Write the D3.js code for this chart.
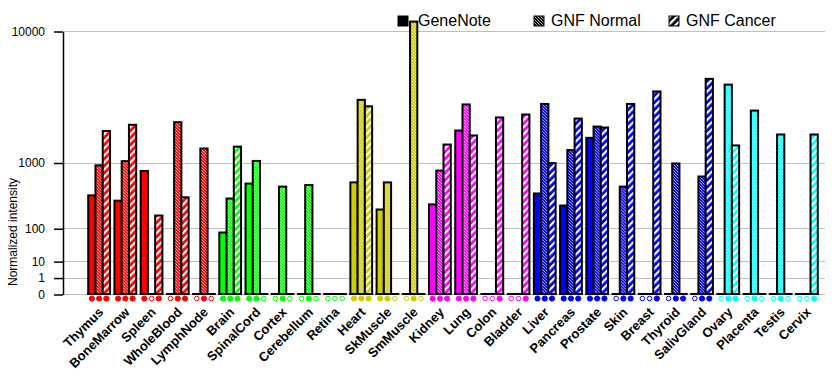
<!DOCTYPE html>
<html>
<head>
<meta charset="utf-8">
<script src="https://cdn.jsdelivr.net/npm/d3@7"></script>
<style>
  body { margin: 0; background: #fff; }
  svg text { font-family: Arial, "Liberation Sans", sans-serif; }
</style>
</head>
<body>
<div id="chart"></div>
<script>
// tissues and their colour group
var tissues = ["Thymus", "BoneMarrow", "Spleen", "WholeBlood", "LymphNode",
  "Brain", "SpinalCord", "Cortex", "Cerebellum", "Retina",
  "Heart", "SkMuscle", "SmMuscle",
  "Kidney", "Lung", "Colon", "Bladder",
  "Liver", "Pancreas", "Prostate", "Skin", "Breast", "Thyroid", "SalivGland",
  "Ovary", "Placenta", "Testis", "Cervix"];

var tissueColors = ["#ff0000", "#ff0000", "#ff0000", "#ff0000", "#ff0000",
  "#00ff00", "#00ff00", "#00ff00", "#00ff00", "#00ff00",
  "#cccc00", "#cccc00", "#cccc00",
  "#ff00ff", "#ff00ff", "#ff00ff", "#ff00ff",
  "#0000ff", "#0000ff", "#0000ff", "#0000ff", "#0000ff", "#0000ff", "#0000ff",
  "#00ffff", "#00ffff", "#00ffff", "#00ffff"];

var seriesNames = ["GeneNote", "GNF Normal", "GNF Cancer"];

var geneNote = [385, 320, 800, 0, 0, 80, 560, 0, 0, 0, 580, 230, 0, 280, 2060, 0, 0,
  410, 268, 1770, 0, 0, 0, 0, 0, 0, 0, 0];
var gnfNormal = [930, 1035, 0, 2430, 1400, 345, 1040, 510, 535, 0, 3650, 580, 11240, 810, 3370, 0, 0,
  3400, 1350, 2230, 510, 0, 976, 688, 4690, 3020, 1900, 0];
var gnfCancer = [2040, 2310, 180, 360, 0, 1460, 0, 0, 0, 0, 3260, 0, 0, 1530, 1860, 2660, 2810,
  985, 2605, 2190, 3400, 4200, 0, 5130, 1500, 0, 0, 1900];

// present (P) / absent (A) calls shown as markers under the bars
var calls = ["PPP", "PPP", "PAP", "APP", "APA", "PPP", "PPA", "APA", "APA", "AAA",
  "PPP", "PPA", "APA", "PPP", "PPP", "AAP", "AAP",
  "PPP", "PPP", "PPP", "APP", "AAP", "APP", "APP", "APP", "APA", "APA", "AAP"];

var yTicks = [0, 1, 10, 100, 1000, 10000];

var svgWidth = 840;
var svgHeight = 385;

var svg = d3.select("#chart")
  .append("svg")
  .attr("width", svgWidth)
  .attr("height", svgHeight);

var defs = svg.append("defs");

// one hatch pattern per colour and series
function makePatterns(key, color) {
  var pn = defs.append("pattern")
    .attr("id", "pn-" + key)
    .attr("patternUnits", "userSpaceOnUse")
    .attr("width", 3).attr("height", 3);
  pn.append("rect").attr("width", 3).attr("height", 3).attr("fill", color);
  pn.append("path").attr("d", "M-1,-1L4,4M-1,2L1,4M2,-1L4,1")
    .attr("stroke", "#fff").attr("stroke-width", 1)
    .attr("stroke-dasharray", "1.1,0.5");

  var pc = defs.append("pattern")
    .attr("id", "pc-" + key)
    .attr("patternUnits", "userSpaceOnUse")
    .attr("width", 5).attr("height", 5)
    .attr("patternTransform", "rotate(45)");
  pc.append("rect").attr("width", 5).attr("height", 5).attr("fill", color);
  pc.append("rect").attr("width", 2.2).attr("height", 5).attr("fill", "#fff");
}

var uniqueColors = Array.from(new Set(tissueColors)).concat(["#000000"]);
uniqueColors.forEach(function(c) { makePatterns(c.slice(1), c); });

function fillFor(color, s) {
  if (s === 0) return color;
  return "url(#" + (s === 1 ? "pn-" : "pc-") + color.slice(1) + ")";
}

// scales
var x0 = d3.scaleBand()
  .domain(tissues)
  .range([86, 820])
  .paddingInner(0.17)
  .paddingOuter(0.085);

var x1 = d3.scaleBand()
  .domain([0, 1, 2])
  .range([0, x0.bandwidth()]);

// every decade doubles the distance -> power scale with exponent log10(2)
var y = d3.scalePow()
  .exponent(Math.log10(2))
  .domain([0, 10000])
  .range([294, 31]);

var axisX = 63;

// gridlines
svg.append("g")
  .selectAll("line")
  .data(yTicks)
  .enter()
  .append("line")
  .attr("x1", axisX)
  .attr("x2", 825)
  .attr("y1", d => Math.round(y(d)) + 0.5)
  .attr("y2", d => Math.round(y(d)) + 0.5)
  .attr("stroke", "#c0c0c0")
  .attr("stroke-width", 1);

// y axis
var yAxis = svg.append("g")
  .attr("transform", `translate(${axisX}, 0.5)`)
  .call(d3.axisLeft(y).tickValues(yTicks).tickFormat(d3.format("d"))
    .tickSizeInner(9).tickSizeOuter(0).tickPadding(9));
yAxis.select(".domain").attr("stroke", "#000").attr("stroke-width", 1.5);
yAxis.selectAll(".tick line").attr("stroke", "#000").attr("stroke-width", 1.5);
yAxis.selectAll("text")
  .attr("font-size", "12px")
  .attr("fill", "#000")
  .attr("font-family", "Arial, 'Liberation Sans', sans-serif");

svg.append("text")
  .attr("transform", "translate(17, 232) rotate(-90)")
  .attr("text-anchor", "middle")
  .attr("font-size", "12px")
  .text("Normalized intensity");

// bars
var rows = tissues.map(function(t, i) {
  return {
    tissue: t,
    color: tissueColors[i],
    values: [geneNote[i], gnfNormal[i], gnfCancer[i]],
    calls: calls[i]
  };
});

var groups = svg.append("g")
  .selectAll("g")
  .data(rows)
  .enter()
  .append("g")
  .attr("transform", d => `translate(${x0(d.tissue)}, 0)`);

// black baseline under each group
groups.append("line")
  .attr("x1", -1)
  .attr("x2", x0.bandwidth() + 1)
  .attr("y1", y(0))
  .attr("y2", y(0))
  .attr("stroke", "#000")
  .attr("stroke-width", 2);

groups.selectAll("rect")
  .data(d => d.values.map((v, s) => ({ v: v, s: s, color: d.color })).filter(b => b.v > 0))
  .enter()
  .append("rect")
  .attr("x", b => x1(b.s))
  .attr("width", x1.bandwidth())
  .attr("y", b => y(b.v))
  .attr("height", b => y(0) - y(b.v))
  .attr("fill", b => fillFor(b.color, b.s))
  .attr("stroke", "#000")
  .attr("stroke-width", 2);

// present / absent markers
groups.selectAll("circle")
  .data(d => d.calls.split("").map((c, s) => ({ present: c === "P", s: s, color: d.color })))
  .enter()
  .append("circle")
  .attr("cx", b => x1(b.s) + x1.bandwidth() / 2)
  .attr("cy", 298.5)
  .attr("r", b => b.present ? 2.6 : 2.3)
  .attr("fill", b => b.present ? b.color : "#fff")
  .attr("stroke", b => b.color)
  .attr("stroke-width", 1);

// tissue labels
svg.append("g")
  .selectAll("text")
  .data(tissues)
  .enter()
  .append("text")
  .attr("transform", d => `translate(${x0(d) + x0.bandwidth() / 2 + 5}, 313) rotate(-45)`)
  .attr("text-anchor", "end")
  .attr("font-size", "13px")
  .attr("font-weight", "bold")
  .text(d => d);

// legend
var legendX = [398, 534, 669];
var legend = svg.append("g")
  .selectAll("g")
  .data(seriesNames)
  .enter()
  .append("g")
  .attr("transform", (d, i) => `translate(${legendX[i]}, 16)`);

legend.append("rect")
  .attr("width", 10)
  .attr("height", 10)
  .attr("fill", (d, i) => fillFor("#000000", i))
  .attr("stroke", "#000")
  .attr("stroke-width", 1);

legend.append("text")
  .attr("x", (d, i) => i === 0 ? 20 : 17)
  .attr("y", 10)
  .attr("font-size", "16px")
  .text(d => d);
</script>
</body>
</html>
